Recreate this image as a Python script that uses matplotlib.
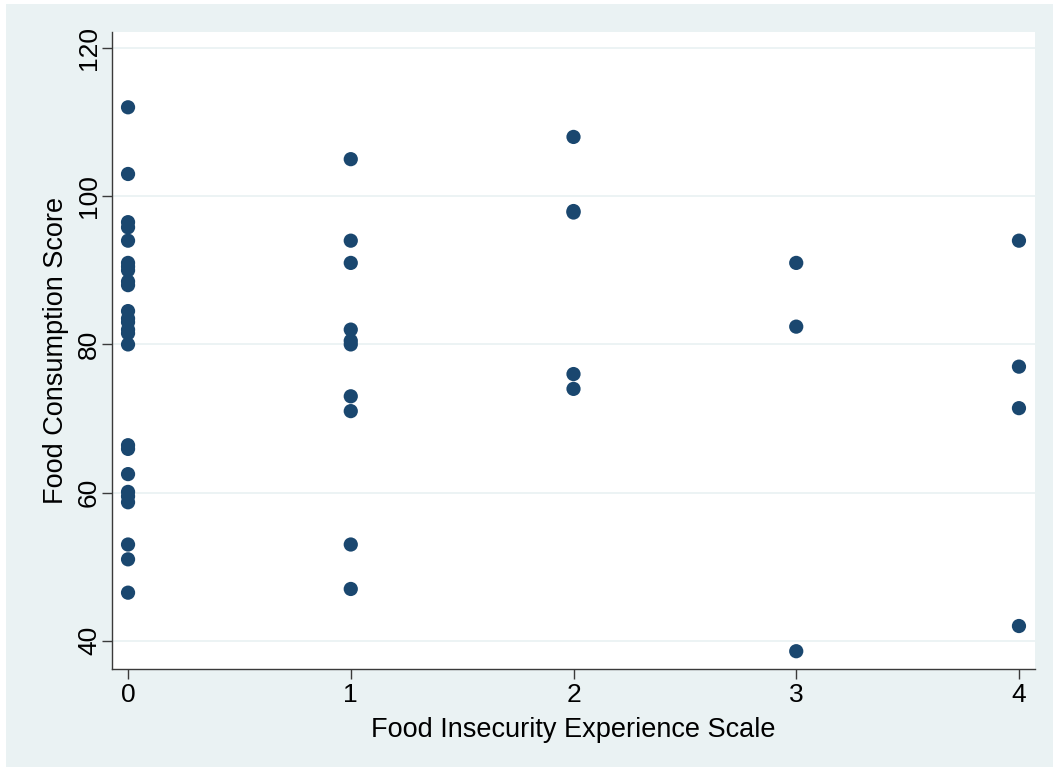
import numpy as np
import matplotlib.pyplot as plt
from matplotlib.patches import Rectangle

# FIES score -> food consumption scores
fies_0 = [112, 103, 96.5, 95.8, 94, 91, 90.5, 90, 88.5, 88, 84.5, 83.5, 83, 82, 81.5, 80,
          66.4, 65.9, 62.5, 60.1, 59.5, 58.7, 53, 51, 46.5]
fies_1 = [105, 94, 91, 82, 80.5, 80, 73, 71, 53, 47]
fies_2 = [108, 98, 97.8, 76, 74]
fies_3 = [91, 82.4, 38.6]
fies_4 = [94, 77, 71.4, 42]

scores = [fies_0, fies_1, fies_2, fies_3, fies_4]
yticks = [40, 60, 80, 100, 120]

plt.rcParams['font.family'] = ['Liberation Sans', 'DejaVu Sans']

bg = '#eaf2f3'
navy = '#1a476f'

fig = plt.figure(figsize=(10.53, 7.72), dpi=100)
fig.patch.set_facecolor('white')
# stata-style outer region
fig.patches.append(Rectangle((6/1053, 5/772), 1047/1053, 763/772, transform=fig.transFigure,
                             facecolor=bg, edgecolor='none', zorder=-10))

ax = fig.add_axes([112/1053, 103/772, 923/1053, 637/772])
ax.set_facecolor('white')

for i, ys in enumerate(scores):
    ax.scatter(np.full(len(ys), i), ys, s=105, color=navy, edgecolors='none', zorder=3)

ax.set_xlim(-0.072, 4.072)
ax.set_ylim(36.2, 122.16)
ax.set_xticks(range(5))
ax.set_yticks(yticks)
ax.set_yticklabels([str(t) for t in yticks], rotation=90, va='center')
ax.grid(axis='y', color=bg, linewidth=1.3, zorder=0)
ax.set_axisbelow(True)

for side in ['top', 'right']:
    ax.spines[side].set_visible(False)
for side in ['left', 'bottom']:
    ax.spines[side].set_color('#3a3a3a')
    ax.spines[side].set_linewidth(1.0)

ax.tick_params(axis='both', direction='out', length=7, width=1.0, color='#3a3a3a',
               labelsize=19, pad=3)
ax.tick_params(axis='y', pad=1)

ax.set_xlabel('Food Insecurity Experience Scale', fontsize=19.5, labelpad=7)
ax.set_ylabel('Food Consumption Score', fontsize=19.5, labelpad=6)

fig.savefig('out.png', dpi=100, facecolor=fig.get_facecolor())
